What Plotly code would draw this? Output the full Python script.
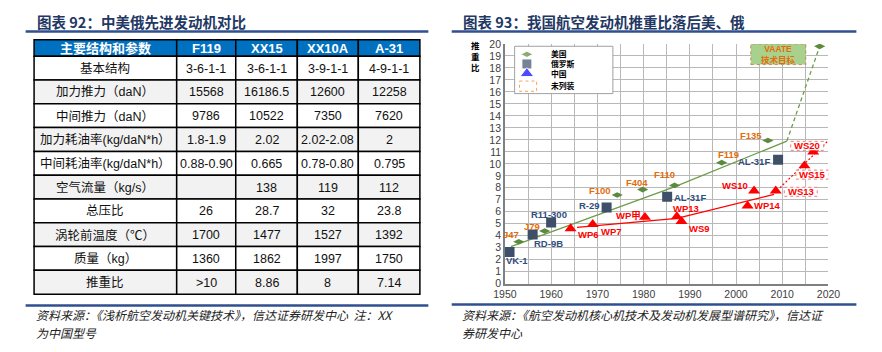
import plotly.graph_objects as go

W, H = 882, 352
CJK = "Noto Sans CJK SC"
SANS = "Liberation Sans, Noto Sans CJK SC"

# ---------------- table data ----------------
table_header = ["主要结构和参数", "F119", "XX15", "XX10A", "A-31"]
row_labels = ["基本结构", "加力推力（daN）", "中间推力（daN）", "加力耗油率(kg/daN*h）",
              "中间耗油率(kg/daN*h）", "空气流量（kg/s）", "总压比", "涡轮前温度（℃）",
              "质量（kg）", "推重比"]
f119 = ["3-6-1-1", "15568", "9786", "1.8-1.9", "0.88-0.90", "", "26", "1700", "1360", ">10"]
xx15 = ["3-6-1-1", "16186.5", "10522", "2.02", "0.665", "138", "28.7", "1477", "1862", "8.86"]
xx10a = ["3-9-1-1", "12600", "7350", "2.02-2.08", "0.78-0.80", "119", "32", "1527", "1997", "8"]
a31 = ["4-9-1-1", "12258", "7620", "2", "0.795", "112", "23.8", "1392", "1750", "7.14"]

# ---------------- chart data ----------------
us_names = ["J47", "J79", "F100", "F404", "F110", "F119", "F135"]
us_year = [1953.0, 1958.6, 1974.3, 1979.8, 1986.7, 1996.9, 2006.9]
us_twr = [3.5, 4.4, 7.4, 7.85, 8.2, 10.1, 11.95]
vaate_year = [2018.1]
vaate_twr = [19.8]

ru_names = ["VK-1", "RD-9B", "R11-300", "R-29", "AL-31F", "AL-31F"]
ru_year = [1951.0, 1956.0, 1960.0, 1972.0, 1985.1, 2009.1]
ru_twr = [2.65, 4.1, 5.1, 6.35, 7.25, 10.35]

cn_names = ["WP6", "WP7", "WP甲", "WP13", "WS9", "WP14", "WS10", "WS13", "WS15", "WS20"]
cn_year = [1964.2, 1969.0, 1980.3, 1987.2, 1988.2, 2002.5, 2003.9, 2008.6, 2014.8, 2016.7]
cn_twr = [4.6, 4.95, 5.55, 5.6, 5.2, 6.5, 7.75, 7.75, 9.85, 11.0]
cn_in_service = [True, True, True, True, True, True, True, False, False, False]

us_trend_year = [1951.3, 1986.8, 2011.0]
us_trend_twr = [3.1, 8.1, 11.9]
us_goal_year = [2011.0, 2018.1]
us_goal_twr = [11.9, 19.8]
cn_trend_year = [1965.6, 1987.2, 2008.2]
cn_trend_twr = [4.7, 5.45, 7.45]
cn_future_year = [2009.5, 2020.0]
cn_future_twr = [8.0, 11.95]

x_ticks = [1950, 1960, 1970, 1980, 1990, 2000, 2010, 2020]

# ---------------- styles ----------------
GREEN = "#5B8A3C"
GREEN_LINE = "#6E9C4A"
NAVY_SQ = "#3D4F69"
RED = "#FF0000"
ORANGE = "#E46C0A"
BLUE_LABEL = "#2F4E7E"
TITLE_C = "#1F3864"
RULE_C = "#2F4F8F"

us_off = [(-8, -7), (-13, -4), (-17, -5), (-6, -7), (-10, -11), (7, -8), (-17, -5)]
ru_off = [(7, 9), (16, 9), (-2, -8), (-17, -2), (23, 1), (-24, 2)]
cn_off = [(18, 6), (19, 7), (-16, -2), (9, -8), (18, 7), (20, 0), (-19, -5), (25, 1), (8, 9), (-6, -6)]

# table geometry (pixels)
col_edges = [22.7, 169.3, 230.0, 293.3, 356.0, 419.3]
table_top = 35.0
header_h = 17.0
row_h = 24.63


def px(x):
    return x / W


def py(y):
    return 1 - y / H


fig = go.Figure()
annotations = []
shapes = []

# ---- table drawn on pixel overlay axes ----
columns = [row_labels, f119, xx15, xx10a, a31]
for c in range(len(table_header)):
    x0, x1 = col_edges[c], col_edges[c + 1]
    shapes.append(dict(type="rect", xref="x2", yref="y2", x0=x0, x1=x1, y0=table_top,
                       y1=table_top + header_h, fillcolor="#0070C0",
                       line=dict(color="black", width=1.5), layer="below"))
    annotations.append(dict(x=(x0 + x1) / 2, y=table_top + header_h / 2 + 0.5, xref="x2", yref="y2",
                            text=f"<b>{table_header[c]}</b>", showarrow=False, borderpad=0,
                            font=dict(family=SANS, size=13, color="white")))
    for r, val in enumerate(columns[c]):
        y0 = table_top + header_h + r * row_h
        shapes.append(dict(type="rect", xref="x2", yref="y2", x0=x0, x1=x1, y0=y0, y1=y0 + row_h,
                           fillcolor="white" if r % 2 == 0 else "#F2F2F2",
                           line=dict(color="black", width=1.5), layer="below"))
        if val:
            annotations.append(dict(x=(x0 + x1) / 2, y=y0 + row_h / 2 + 0.5, xref="x2", yref="y2",
                                    text=val, showarrow=False, borderpad=0,
                                    font=dict(family=SANS, size=12.5, color="#111111")))

# ---- chart lines ----
fig.add_trace(go.Scatter(x=us_trend_year, y=us_trend_twr, mode="lines",
                         line=dict(color=GREEN_LINE, width=1.3), hoverinfo="skip"))
fig.add_trace(go.Scatter(x=us_goal_year, y=us_goal_twr, mode="lines",
                         line=dict(color=GREEN_LINE, width=1.3, dash="4px,3px"), hoverinfo="skip"))
fig.add_trace(go.Scatter(x=cn_trend_year, y=cn_trend_twr, mode="lines",
                         line=dict(color=RED, width=1.3), hoverinfo="skip"))
fig.add_trace(go.Scatter(x=cn_future_year, y=cn_future_twr, mode="lines",
                         line=dict(color=RED, width=1.2, dash="2px,2px"), hoverinfo="skip"))

# ---- markers ----
fig.add_trace(go.Scatter(x=us_year + vaate_year, y=us_twr + vaate_twr, mode="markers",
                         marker=dict(symbol="diamond-wide", size=8, color=GREEN)))
fig.add_trace(go.Scatter(x=ru_year, y=ru_twr, mode="markers",
                         marker=dict(symbol="square", size=10, color=NAVY_SQ)))
fig.add_trace(go.Scatter(x=cn_year, y=cn_twr, mode="markers",
                         marker=dict(symbol="triangle-up", size=10.5, color=RED)))


def label(x, y, text, color, off):
    annotations.append(dict(x=x, y=y, xref="x", yref="y", text=f"<b>{text}</b>", showarrow=False,
                            xshift=off[0], yshift=-off[1], borderpad=0,
                            font=dict(family=SANS, size=9.5, color=color)))


for n, x, y, o in zip(us_names, us_year, us_twr, us_off):
    label(x, y, n, ORANGE, o)
for n, x, y, o in zip(ru_names, ru_year, ru_twr, ru_off):
    label(x, y, n, BLUE_LABEL, o)
for n, x, y, o, s in zip(cn_names, cn_year, cn_twr, cn_off, cn_in_service):
    if not s:
        shapes.append(dict(type="rect", xref="x", yref="y", xsizemode="pixel", ysizemode="pixel",
                           xanchor=x, yanchor=y, x0=o[0] - 16.5, x1=o[0] + 16.5,
                           y0=-o[1] - 4.5, y1=-o[1] + 4.5, fillcolor="white",
                           line=dict(color="#E06060", width=0.8, dash="dot"), layer="above"))
    label(x, y, n, RED, o)

# VAATE target box
shapes.append(dict(type="rect", xref="x", yref="y", x0=2003.2, x1=2015.1, y0=18.28, y1=20.0,
                   fillcolor="#A9D18E", line=dict(color="#C88A50", width=1, dash="dot"), layer="above"))
annotations.append(dict(x=2009.15, y=19.14, xref="x", yref="y", text="<b>VAATE<br>技术目标</b>",
                        showarrow=False, borderpad=0, font=dict(family=SANS, size=8.5, color=ORANGE)))

# ---- legend (pixel overlay) ----
shapes.append(dict(type="rect", xref="x2", yref="y2", x0=516.7, x1=617.7, y0=41.7, y1=90.7,
                   fillcolor="white", line=dict(color="#A0A0A0", width=1), layer="below"))
shapes.append(dict(type="rect", xref="x2", yref="y2", x0=521.7, x1=539.3, y0=77.7, y1=88.3,
                   fillcolor="rgba(0,0,0,0)", line=dict(color="#F4A460", width=1, dash="dot"),
                   layer="above"))
fig.add_trace(go.Scatter(x=[529.3, 529.3, 529.3], y=[50, 60, 70], xaxis="x2", yaxis="y2",
                         mode="markers", hoverinfo="skip",
                         marker=dict(symbol=["diamond-wide", "square", "triangle-up"],
                                     size=[9, 10, 12], color=[GREEN, NAVY_SQ, "#0000FF"])))
annotations.append(dict(x=553, y=60, xref="x2", yref="y2", text="<b>美国<br>俄罗斯<br>中国</b>",
                        showarrow=False, xanchor="left", align="left", borderpad=0,
                        font=dict(family=CJK, size=7.8, color="black")))
annotations.append(dict(x=553, y=82.7, xref="x2", yref="y2", text="<b>未列装</b>",
                        showarrow=False, xanchor="left", borderpad=0,
                        font=dict(family=CJK, size=7.8, color="black")))

# y-axis title
annotations.append(dict(x=476, y=51.7, xref="x2", yref="y2", text="<b>推<br>重<br>比</b>",
                        showarrow=False, borderpad=0, font=dict(family=CJK, size=8.5, color="black")))

# ---- titles, rules, sources ----
annotations.append(dict(x=24, y=16, xref="x2", yref="y2", xanchor="left", showarrow=False,
                        text="<b>图表 92：中美俄先进发动机对比</b>",
                        font=dict(family=CJK, size=14.5, color=TITLE_C)))
annotations.append(dict(x=462, y=16, xref="x2", yref="y2", xanchor="left", showarrow=False,
                        text="<b>图表 93：我国航空发动机推重比落后美、俄</b>",
                        font=dict(family=CJK, size=14.5, color=TITLE_C)))
for x0, x1, yy in [(14, 428, 26.5), (452, 868, 26.5), (14, 428, 310), (452, 868, 309)]:
    shapes.append(dict(type="line", xref="x2", yref="y2", x0=x0, x1=x1, y0=yy, y1=yy,
                       line=dict(color=RULE_C, width=2.5)))
src_font = dict(family=CJK, size=12, color="#222222", style="italic")
for x, yy, t in [(24, 319.5, "资料来源：《浅析航空发动机关键技术》，信达证券研发中心  注：XX"),
                 (24, 338, "为中国型号"),
                 (462, 319.5, "资料来源：《航空发动机核心机技术及发动机发展型谱研究》，信达证"),
                 (462, 338, "券研发中心")]:
    annotations.append(dict(x=x, y=yy, xref="x2", yref="y2", xanchor="left", showarrow=False,
                            text=t, borderpad=0, font=src_font))

fig.update_layout(
    width=W, height=H, margin=dict(l=0, r=0, t=0, b=0),
    paper_bgcolor="white", plot_bgcolor="rgba(0,0,0,0)", showlegend=False,
    xaxis=dict(domain=[px(506.7), px(839.3)], range=[1950, 2020], tickvals=x_ticks,
               showgrid=True, gridcolor="#B8B8B8", gridwidth=1.3,
               minor=dict(dtick=5, tick0=1950, showgrid=True, gridcolor="#B8B8B8", gridwidth=1.3),
               showline=True, linecolor="#808080", linewidth=1.5, zeroline=False,
               tickfont=dict(family=SANS, size=10.5, color="#404040"), ticks="", fixedrange=True),
    yaxis=dict(domain=[py(287.5), py(39.3)], range=[0, 20], dtick=1, tick0=0,
               showgrid=True, gridcolor="#B8B8B8", gridwidth=1.3,
               showline=True, linecolor="#808080", linewidth=1.5, zeroline=False,
               tickfont=dict(family=SANS, size=10.5, color="#404040"), ticks="", fixedrange=True),
    xaxis2=dict(domain=[0, 1], range=[0, W], visible=False, anchor="y2", fixedrange=True),
    yaxis2=dict(domain=[0, 1], range=[H, 0], visible=False, anchor="x2", fixedrange=True),
    shapes=shapes, annotations=annotations,
)

fig.write_html("out.html")
